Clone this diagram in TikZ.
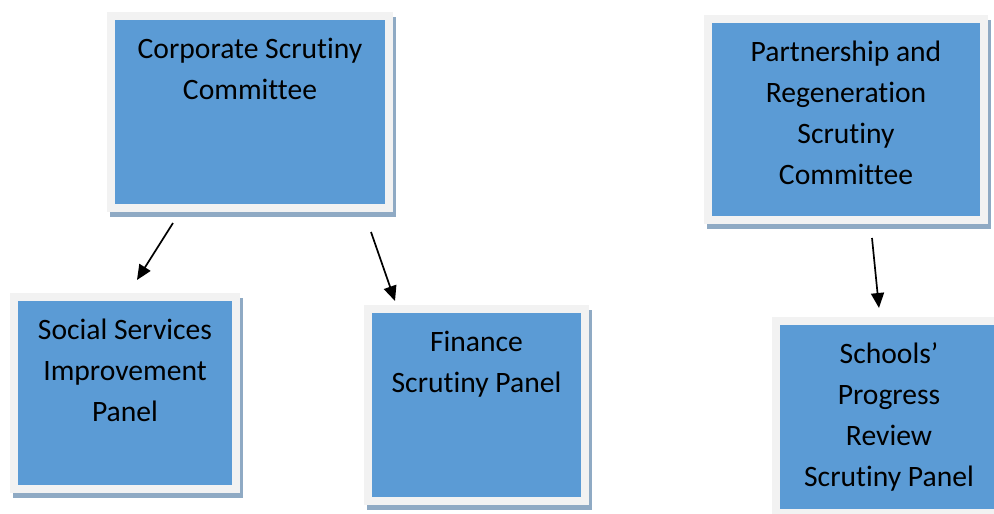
\documentclass[tikz,border=0pt]{standalone}
\usepackage{fontspec}
\setmainfont{Carlito}[Ligatures=NoCommon, RawFeature=-clig, RawFeature=-calt]
\usetikzlibrary{arrows.meta}
\definecolor{boxblue}{HTML}{5B9BD5}
\definecolor{boxframe}{HTML}{F2F2F2}
\definecolor{boxshadow}{RGB}{143,170,196}
\tikzset{
  panel/.style={rectangle, inner sep=0pt, fill=boxblue, draw=boxframe, line width=8pt,
    preaction={fill=boxshadow, draw=boxshadow, line width=8pt, transform canvas={shift={(3pt,-5pt)}}}},
  paneltext/.style={anchor=north, inner sep=0pt, align=center, font=\fontsize{29.6}{41}\selectfont},
  link/.style={line width=1.7pt, -{Triangle[length=15pt,width=13pt]}}
}
\newcommand{\firstline}{\rule{0pt}{30pt}}
\begin{document}
\begin{tikzpicture}[x={(1pt,0)}, y={(0,-1pt)}]
\useasboundingbox[fill=white] (0,0) rectangle (994,514);
% boxes
\node[panel, minimum width=278pt, minimum height=192pt] (c1) at (250,112) {};
\node[panel, minimum width=222pt, minimum height=192pt] (c2) at (125,393) {};
\node[panel, minimum width=276pt, minimum height=201pt] (c3) at (846,119.5) {};
\node[panel, minimum width=217pt, minimum height=192pt] (c4) at (476.5,405) {};
\node[panel, minimum width=226pt, minimum height=192pt] (c5) at (889,417) {};
% texts
\node[paneltext] (t1) at (250,28) {\firstline Corporate Scrutiny\\Committee};
\node[paneltext] (t2) at (125,309) {\firstline Social Services\\Improvement\\Panel};
\node[paneltext] (t3) at (846,31) {\firstline Partnership and\\Regeneration\\Scrutiny\\Committee};
\node[paneltext] (t4) at (476.5,321) {\firstline Finance\\Scrutiny Panel};
\node[paneltext] (t5) at (889,333) {\firstline Schools’\\Progress\\Review\\Scrutiny Panel};
% arrow ends
\coordinate (a1s) at (173,223);
\coordinate (a1e) at (137,280);
\coordinate (a2s) at (371,232);
\coordinate (a2e) at (395,301);
\coordinate (a3s) at (872,238);
\coordinate (a3e) at (879,308);
\draw[link] (a1s) -- (a1e);
\draw[link] (a2s) -- (a2e);
\draw[link] (a3s) -- (a3e);
\end{tikzpicture}
\end{document}
